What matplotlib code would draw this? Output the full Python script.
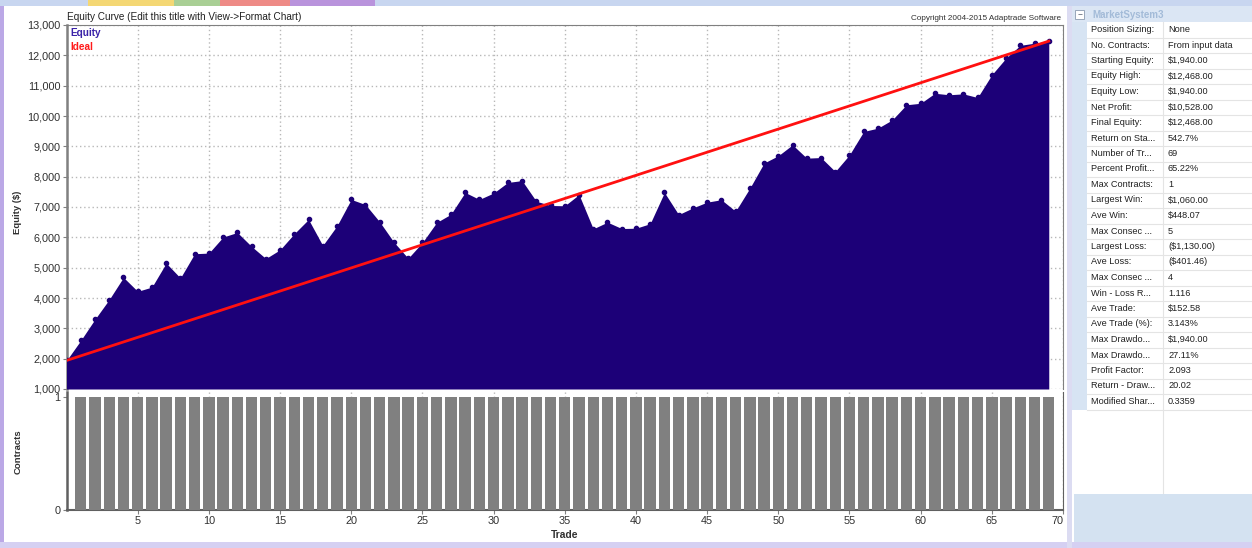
import matplotlib
matplotlib.use("Agg")
import matplotlib.pyplot as plt
from matplotlib.patches import Rectangle
from matplotlib.ticker import FuncFormatter

# equity after each trade (trade 0 = starting equity)
trades = list(range(0, 70))
equity = [1940, 2600, 3300, 3950, 4680, 4220, 4360, 5150, 4660, 5460,
          5480, 6010, 6160, 5700, 5300, 5590, 6120, 6590, 5730, 6380,
          7250, 7080, 6510, 5840, 5310, 5830, 6490, 6760, 7480, 7250,
          7460, 7810, 7870, 7190, 7050, 7040, 7410, 6280, 6500, 6290,
          6300, 6450, 7480, 6750, 6970, 7160, 7240, 6860, 7620, 8450,
          8690, 9050, 8610, 8630, 8170, 8720, 9490, 9600, 9870, 10370,
          10420, 10750, 10700, 10730, 10610, 11360, 11910, 12330, 12400, 12468]
contracts = [1] * 69
y_ticks = list(range(1000, 14000, 1000))
x_ticks = list(range(5, 75, 5))

stat_labels = ["Position Sizing:", "No. Contracts:", "Starting Equity:", "Equity High:",
               "Equity Low:", "Net Profit:", "Final Equity:", "Return on Sta...",
               "Number of Tr...", "Percent Profit...", "Max Contracts:", "Largest Win:",
               "Ave Win:", "Max Consec ...", "Largest Loss:", "Ave Loss:",
               "Max Consec ...", "Win - Loss R...", "Ave Trade:", "Ave Trade (%):",
               "Max Drawdo...", "Max Drawdo...", "Profit Factor:", "Return - Draw...",
               "Modified Shar..."]
stat_values = ["None", "From input data", "$1,940.00", "$12,468.00", "$1,940.00",
               "$10,528.00", "$12,468.00", "542.7%", "69", "65.22%", "1", "$1,060.00",
               "$448.07", "5", "($1,130.00)", "($401.46)", "4", "1.116", "$152.58",
               "3.143%", "$1,940.00", "27.11%", "2.093", "20.02", "0.3359"]

W, H = 1252, 548
plt.rcParams['font.family'] = ['Liberation Sans', 'DejaVu Sans']
fig = plt.figure(figsize=(W / 100, H / 100), dpi=100)
fig.patch.set_facecolor('white')

def fx(x):
    return x / W

def fy(y):
    return 1 - y / H

def rect(x0, y0, x1, y1, color, ec='none', lw=0, z=0):
    fig.add_artist(Rectangle((fx(x0), fy(y1)), (x1 - x0) / W, (y1 - y0) / H,
                             transform=fig.transFigure, facecolor=color,
                             edgecolor=ec, linewidth=lw, zorder=z))

# window decoration
rect(0, 0, 1252, 6, '#c8d6f0')
for x0, x1, c in [(88, 174, '#f4d774'), (174, 220, '#a9cf95'),
                  (220, 290, '#ee8a86'), (290, 375, '#b993dc')]:
    rect(x0, 0, x1, 6, c)
rect(0, 6, 4, 548, '#bba8e6')
rect(0, 542, 1252, 548, '#d5d0f2')
rect(1067, 6, 1072, 548, '#dcdcf2')

fill_col = '#1c0078'
grid_kw = dict(color='#b8b8b8', linestyle=(0, (1, 2)), linewidth=1, zorder=1)

# equity panel
ax1 = fig.add_axes([fx(66.5), fy(389), (1063 - 66.5) / W, (389 - 25) / H])
for v in y_ticks:
    ax1.axhline(v, **grid_kw)
for t in x_ticks:
    ax1.axvline(t, **grid_kw)
ax1.fill_between(trades, equity, 1000, color=fill_col, linewidth=0, zorder=3)
ax1.plot(trades, equity, 'o', ms=3, color=fill_col, zorder=4)
ax1.plot([trades[0], trades[-1]], [equity[0], equity[-1]], color='#ff1010', lw=2, zorder=5)
ax1.set_xlim(0, 70)
ax1.set_ylim(1000, 13000)
ax1.set_yticks(y_ticks)
ax1.yaxis.set_major_formatter(FuncFormatter(lambda v, p: f"{int(v):,}"))
ax1.set_xticks(x_ticks)
ax1.tick_params(axis='x', labelbottom=False, length=0)
ax1.tick_params(axis='y', labelsize=7.8, length=3, color='#808080', pad=1.5, labelcolor='#303030')
for s in ['left', 'top', 'right']:
    ax1.spines[s].set_color('#808080')
ax1.spines['left'].set_linewidth(1.8)
ax1.spines['bottom'].set_visible(False)

# contracts panel
ax2 = fig.add_axes([fx(66.5), fy(510), (1063 - 66.5) / W, (510 - 392) / H])
for t in x_ticks:
    ax2.axvline(t, **grid_kw)
ax2.bar(trades[1:], contracts, width=0.8, color='#808080', linewidth=0, zorder=3)
ax2.set_xlim(0, 70)
ax2.set_ylim(0, 1.04)
ax2.set_yticks([0, 1])
ax2.set_xticks(x_ticks)
ax2.tick_params(labelsize=7.8, length=3, color='#808080', pad=1.5, labelcolor='#303030')
ax2.get_xticklabels()[-1].set_horizontalalignment('right')
for s in ['left', 'bottom', 'right']:
    ax2.spines[s].set_color('#606060')
ax2.spines['left'].set_linewidth(1.8)
ax2.spines['bottom'].set_linewidth(1.5)
ax2.spines['top'].set_visible(False)

# chart texts
fig.text(fx(67), fy(17), "Equity Curve (Edit this title with View->Format Chart)",
         fontsize=7.2, color='#202020', va='center', ha='left')
fig.text(fx(1061), fy(18), "Copyright 2004-2015 Adaptrade Software",
         fontsize=5.9, color='#303030', va='center', ha='right')
fig.text(fx(70), fy(33), "Equity", fontsize=7.2, color='#3a22a8', weight='bold', va='center')
fig.text(fx(70), fy(47), "Ideal", fontsize=7.2, color='#ff1a1a', weight='bold', va='center')
fig.text(fx(18), fy(212), "Equity ($)", fontsize=6.8, weight='bold', color='#303030',
         rotation=90, ha='center', va='center')
fig.text(fx(18), fy(452), "Contracts", fontsize=6.8, weight='bold', color='#303030',
         rotation=90, ha='center', va='center')
fig.text(fx(565), fy(535), "Trade", fontsize=7.4, weight='bold', color='#303030',
         ha='center', va='center')

# property grid on the right
rect(1072, 6, 1252, 22, '#dbe6f4')
rect(1075, 10, 1084, 19, 'white', ec='#8a9ab0', lw=0.6, z=2)
fig.text(fx(1079.5), fy(14.5), "\u2212", fontsize=6, color='#505a6a', ha='center', va='center')
fig.text(fx(1092), fy(14.5), "MarketSystem3", fontsize=7, weight='bold',
         color='#a3bbd8', va='center')
rect(1072, 22, 1087, 410, '#d7e4f3')
row_h = 15.5
for i, (lab, val) in enumerate(zip(stat_labels, stat_values)):
    yc = 29.5 + i * row_h
    fig.text(fx(1091), fy(yc), lab, fontsize=6.6, color='#202020', va='center')
    fig.text(fx(1168), fy(yc), val, fontsize=6.6, color='#202020', va='center')
    yl = 22 + (i + 1) * row_h
    fig.add_artist(plt.Line2D([fx(1087), fx(1252)], [fy(yl), fy(yl)],
                              transform=fig.transFigure, color='#e4e4e4', lw=0.8))
fig.add_artist(plt.Line2D([fx(1163), fx(1163)], [fy(22), fy(493)],
                          transform=fig.transFigure, color='#e4e4e4', lw=0.8))
rect(1074, 494, 1252, 542, '#d4e2f1')

fig.savefig("out.png", dpi=100, facecolor=fig.get_facecolor())
